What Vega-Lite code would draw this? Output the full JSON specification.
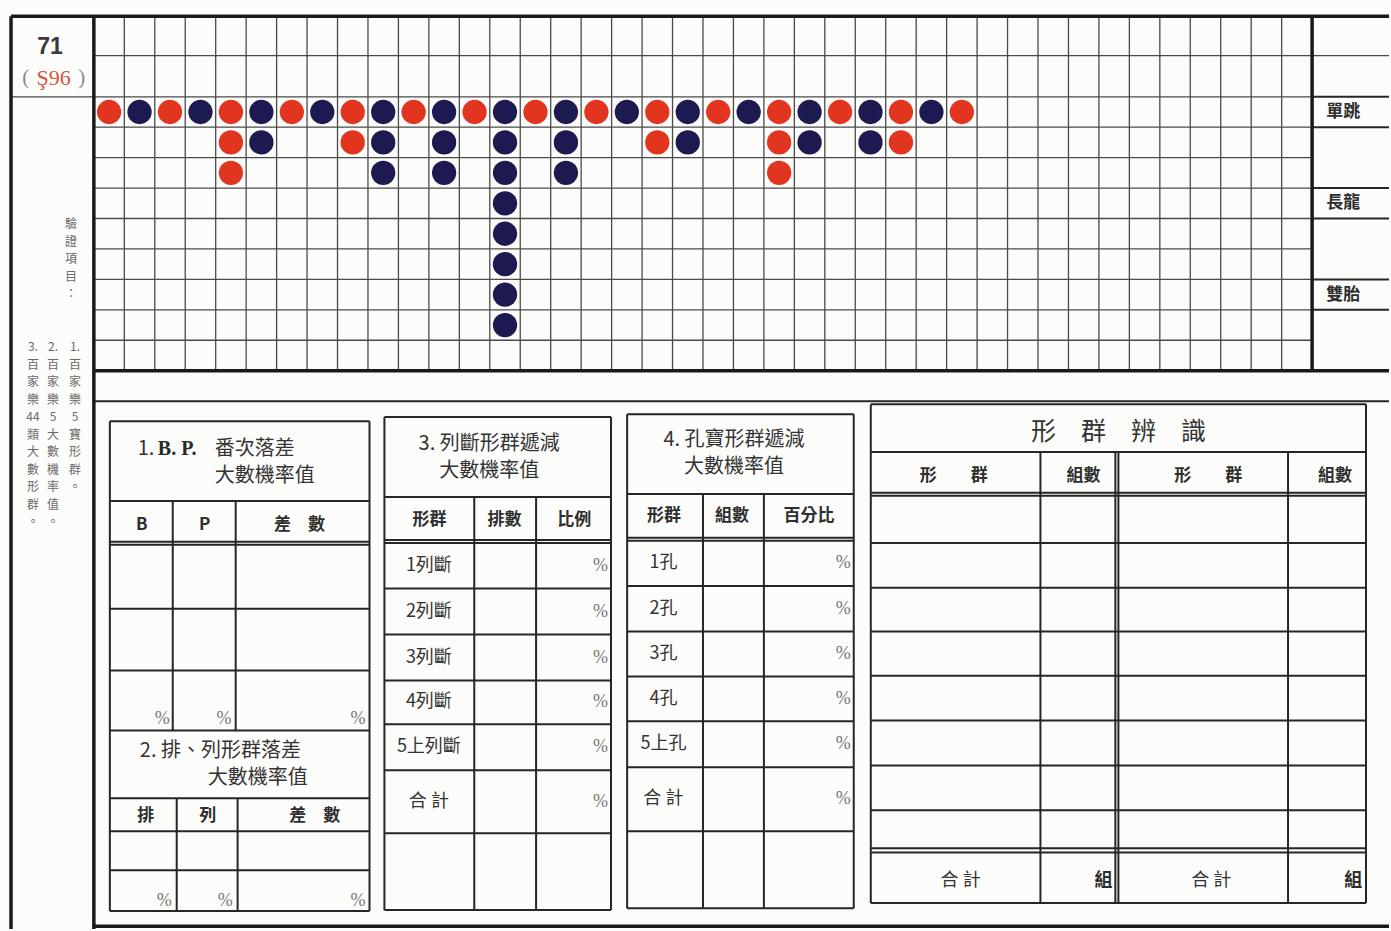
{
  "$schema": "https://vega.github.io/schema/vega-lite/v6.json",
  "width": 1391,
  "height": 931,
  "autosize": {"type": "fit", "contains": "padding"},
  "padding": 0,
  "background": "#fcfcfa",
  "config": {"view": {"stroke": null}},
  "datasets": {
    "road": [
      {"col": 1, "row": 1, "result": "莊"},
      {"col": 2, "row": 1, "result": "閒"},
      {"col": 3, "row": 1, "result": "莊"},
      {"col": 4, "row": 1, "result": "閒"},
      {"col": 5, "row": 1, "result": "莊"}, {"col": 5, "row": 2, "result": "莊"}, {"col": 5, "row": 3, "result": "莊"},
      {"col": 6, "row": 1, "result": "閒"}, {"col": 6, "row": 2, "result": "閒"},
      {"col": 7, "row": 1, "result": "莊"},
      {"col": 8, "row": 1, "result": "閒"},
      {"col": 9, "row": 1, "result": "莊"}, {"col": 9, "row": 2, "result": "莊"},
      {"col": 10, "row": 1, "result": "閒"}, {"col": 10, "row": 2, "result": "閒"}, {"col": 10, "row": 3, "result": "閒"},
      {"col": 11, "row": 1, "result": "莊"},
      {"col": 12, "row": 1, "result": "閒"}, {"col": 12, "row": 2, "result": "閒"}, {"col": 12, "row": 3, "result": "閒"},
      {"col": 13, "row": 1, "result": "莊"},
      {"col": 14, "row": 1, "result": "閒"}, {"col": 14, "row": 2, "result": "閒"}, {"col": 14, "row": 3, "result": "閒"}, {"col": 14, "row": 4, "result": "閒"},
      {"col": 14, "row": 5, "result": "閒"}, {"col": 14, "row": 6, "result": "閒"}, {"col": 14, "row": 7, "result": "閒"}, {"col": 14, "row": 8, "result": "閒"},
      {"col": 15, "row": 1, "result": "莊"},
      {"col": 16, "row": 1, "result": "閒"}, {"col": 16, "row": 2, "result": "閒"}, {"col": 16, "row": 3, "result": "閒"},
      {"col": 17, "row": 1, "result": "莊"},
      {"col": 18, "row": 1, "result": "閒"},
      {"col": 19, "row": 1, "result": "莊"}, {"col": 19, "row": 2, "result": "莊"},
      {"col": 20, "row": 1, "result": "閒"}, {"col": 20, "row": 2, "result": "閒"},
      {"col": 21, "row": 1, "result": "莊"},
      {"col": 22, "row": 1, "result": "閒"},
      {"col": 23, "row": 1, "result": "莊"}, {"col": 23, "row": 2, "result": "莊"}, {"col": 23, "row": 3, "result": "莊"},
      {"col": 24, "row": 1, "result": "閒"}, {"col": 24, "row": 2, "result": "閒"},
      {"col": 25, "row": 1, "result": "莊"},
      {"col": 26, "row": 1, "result": "閒"}, {"col": 26, "row": 2, "result": "閒"},
      {"col": 27, "row": 1, "result": "莊"}, {"col": 27, "row": 2, "result": "莊"},
      {"col": 28, "row": 1, "result": "閒"},
      {"col": 29, "row": 1, "result": "莊"}
    ],
    "nums": [
      {"col": 1}, {"col": 2}, {"col": 3}, {"col": 4}, {"col": 5}, {"col": 6}, {"col": 7}, {"col": 8}, {"col": 9}, {"col": 10},
      {"col": 11}, {"col": 12}, {"col": 13}, {"col": 14}, {"col": 15}, {"col": 16}, {"col": 17}, {"col": 18}, {"col": 19}, {"col": 20},
      {"col": 21}, {"col": 22}, {"col": 23}, {"col": 24}, {"col": 25}, {"col": 26}, {"col": 27}, {"col": 28}, {"col": 29}, {"col": 30},
      {"col": 31}, {"col": 32}, {"col": 33}, {"col": 34}, {"col": 35}, {"col": 36}, {"col": 37}, {"col": 38}, {"col": 39}, {"col": 40}
    ],
    "thinLines": [
      {"x": 1.5, "x2": 1.5, "y": -2.15, "y2": 9.5}, {"x": 2.5, "x2": 2.5, "y": -2.15, "y2": 9.5},
      {"x": 3.5, "x2": 3.5, "y": -2.15, "y2": 9.5}, {"x": 4.5, "x2": 4.5, "y": -2.15, "y2": 9.5},
      {"x": 5.5, "x2": 5.5, "y": -2.15, "y2": 9.5}, {"x": 6.5, "x2": 6.5, "y": -2.15, "y2": 9.5},
      {"x": 7.5, "x2": 7.5, "y": -2.15, "y2": 9.5}, {"x": 8.5, "x2": 8.5, "y": -2.15, "y2": 9.5},
      {"x": 9.5, "x2": 9.5, "y": -2.15, "y2": 9.5}, {"x": 10.5, "x2": 10.5, "y": -2.15, "y2": 9.5},
      {"x": 11.5, "x2": 11.5, "y": -2.15, "y2": 9.5}, {"x": 12.5, "x2": 12.5, "y": -2.15, "y2": 9.5},
      {"x": 13.5, "x2": 13.5, "y": -2.15, "y2": 9.5}, {"x": 14.5, "x2": 14.5, "y": -2.15, "y2": 9.5},
      {"x": 15.5, "x2": 15.5, "y": -2.15, "y2": 9.5}, {"x": 16.5, "x2": 16.5, "y": -2.15, "y2": 9.5},
      {"x": 17.5, "x2": 17.5, "y": -2.15, "y2": 9.5}, {"x": 18.5, "x2": 18.5, "y": -2.15, "y2": 9.5},
      {"x": 19.5, "x2": 19.5, "y": -2.15, "y2": 9.5}, {"x": 20.5, "x2": 20.5, "y": -2.15, "y2": 9.5},
      {"x": 21.5, "x2": 21.5, "y": -2.15, "y2": 9.5}, {"x": 22.5, "x2": 22.5, "y": -2.15, "y2": 9.5},
      {"x": 23.5, "x2": 23.5, "y": -2.15, "y2": 9.5}, {"x": 24.5, "x2": 24.5, "y": -2.15, "y2": 9.5},
      {"x": 25.5, "x2": 25.5, "y": -2.15, "y2": 9.5}, {"x": 26.5, "x2": 26.5, "y": -2.15, "y2": 9.5},
      {"x": 27.5, "x2": 27.5, "y": -2.15, "y2": 9.5}, {"x": 28.5, "x2": 28.5, "y": -2.15, "y2": 9.5},
      {"x": 29.5, "x2": 29.5, "y": -2.15, "y2": 9.5}, {"x": 30.5, "x2": 30.5, "y": -2.15, "y2": 9.5},
      {"x": 31.5, "x2": 31.5, "y": -2.15, "y2": 9.5}, {"x": 32.5, "x2": 32.5, "y": -2.15, "y2": 9.5},
      {"x": 33.5, "x2": 33.5, "y": -2.15, "y2": 9.5}, {"x": 34.5, "x2": 34.5, "y": -2.15, "y2": 9.5},
      {"x": 35.5, "x2": 35.5, "y": -2.15, "y2": 9.5}, {"x": 36.5, "x2": 36.5, "y": -2.15, "y2": 9.5},
      {"x": 37.5, "x2": 37.5, "y": -2.15, "y2": 9.5}, {"x": 38.5, "x2": 38.5, "y": -2.15, "y2": 9.5},
      {"x": 39.5, "x2": 39.5, "y": -2.15, "y2": 9.5},
      {"x": 0.5, "x2": 43.025, "y": -0.85, "y2": -0.85},
      {"x": -2.22, "x2": 40.5, "y": 0.5, "y2": 0.5},
      {"x": 0.5, "x2": 40.5, "y": 1.5, "y2": 1.5}, {"x": 0.5, "x2": 40.5, "y": 2.5, "y2": 2.5},
      {"x": 0.5, "x2": 40.5, "y": 3.5, "y2": 3.5}, {"x": 0.5, "x2": 40.5, "y": 4.5, "y2": 4.5},
      {"x": 0.5, "x2": 40.5, "y": 5.5, "y2": 5.5}, {"x": 0.5, "x2": 40.5, "y": 6.5, "y2": 6.5},
      {"x": 0.5, "x2": 40.5, "y": 7.5, "y2": 7.5}, {"x": 0.5, "x2": 40.5, "y": 8.5, "y2": 8.5}
    ],
    "thickLines": [
      {"x": -2.22, "x2": -2.22, "y": -2.15, "y2": 27.844},
      {"x": 0.5, "x2": 0.5, "y": -2.15, "y2": 27.844},
      {"x": 40.5, "x2": 40.5, "y": -2.15, "y2": 9.5},
      {"x": -2.22, "x2": 43.025, "y": -2.15, "y2": -2.15},
      {"x": 0.5, "x2": 43.025, "y": 9.5, "y2": 9.5},
      {"x": 0.5, "x2": 43.025, "y": 27.75, "y2": 27.75}
    ],
    "formLines": [
      {"x": 40.5, "x2": 43.025, "y": 0.5, "y2": 0.5},
      {"x": 40.5, "x2": 43.025, "y": 1.5, "y2": 1.5},
      {"x": 40.5, "x2": 43.025, "y": 3.5, "y2": 3.5},
      {"x": 40.5, "x2": 43.025, "y": 4.5, "y2": 4.5},
      {"x": 40.5, "x2": 43.025, "y": 6.5, "y2": 6.5},
      {"x": 40.5, "x2": 43.025, "y": 7.5, "y2": 7.5},
      {"x": 0.5, "x2": 43.025, "y": 10.5, "y2": 10.5},

      {"x": 1.025, "x2": 1.025, "y": 11.16, "y2": 27.25},
      {"x": 9.55, "x2": 9.55, "y": 11.16, "y2": 27.25},
      {"x": 1.025, "x2": 9.55, "y": 11.16, "y2": 11.16},
      {"x": 1.025, "x2": 9.55, "y": 27.25, "y2": 27.25},
      {"x": 1.025, "x2": 9.55, "y": 13.78, "y2": 13.78},
      {"x": 1.025, "x2": 9.55, "y": 15.12, "y2": 15.12},
      {"x": 1.025, "x2": 9.55, "y": 15.22, "y2": 15.22},
      {"x": 1.025, "x2": 9.55, "y": 17.32, "y2": 17.32},
      {"x": 1.025, "x2": 9.55, "y": 19.35, "y2": 19.35},
      {"x": 1.025, "x2": 9.55, "y": 21.32, "y2": 21.32},
      {"x": 1.025, "x2": 9.55, "y": 23.55, "y2": 23.55},
      {"x": 1.025, "x2": 9.55, "y": 24.63, "y2": 24.63},
      {"x": 1.025, "x2": 9.55, "y": 25.91, "y2": 25.91},
      {"x": 3.09, "x2": 3.09, "y": 13.78, "y2": 21.32},
      {"x": 5.156, "x2": 5.156, "y": 13.78, "y2": 21.32},
      {"x": 3.22, "x2": 3.22, "y": 23.55, "y2": 27.25},
      {"x": 5.22, "x2": 5.22, "y": 23.55, "y2": 27.25},

      {"x": 10.04, "x2": 10.04, "y": 11.02, "y2": 27.22},
      {"x": 17.48, "x2": 17.48, "y": 11.02, "y2": 27.22},
      {"x": 10.04, "x2": 17.48, "y": 11.02, "y2": 11.02},
      {"x": 10.04, "x2": 17.48, "y": 27.22, "y2": 27.22},
      {"x": 10.04, "x2": 17.48, "y": 13.65, "y2": 13.65},
      {"x": 10.04, "x2": 17.48, "y": 15.06, "y2": 15.06},
      {"x": 10.04, "x2": 17.48, "y": 15.16, "y2": 15.16},
      {"x": 10.04, "x2": 17.48, "y": 16.66, "y2": 16.66},
      {"x": 10.04, "x2": 17.48, "y": 18.17, "y2": 18.17},
      {"x": 10.04, "x2": 17.48, "y": 19.68, "y2": 19.68},
      {"x": 10.04, "x2": 17.48, "y": 21.12, "y2": 21.12},
      {"x": 10.04, "x2": 17.48, "y": 22.63, "y2": 22.63},
      {"x": 10.04, "x2": 17.48, "y": 24.7, "y2": 24.7},
      {"x": 12.99, "x2": 12.99, "y": 13.65, "y2": 27.22},
      {"x": 15.02, "x2": 15.02, "y": 13.65, "y2": 27.22},

      {"x": 18.01, "x2": 18.01, "y": 10.93, "y2": 27.16},
      {"x": 25.45, "x2": 25.45, "y": 10.93, "y2": 27.16},
      {"x": 18.01, "x2": 25.45, "y": 10.93, "y2": 10.93},
      {"x": 18.01, "x2": 25.45, "y": 27.16, "y2": 27.16},
      {"x": 18.01, "x2": 25.45, "y": 13.55, "y2": 13.55},
      {"x": 18.01, "x2": 25.45, "y": 14.99, "y2": 14.99},
      {"x": 18.01, "x2": 25.45, "y": 15.09, "y2": 15.09},
      {"x": 18.01, "x2": 25.45, "y": 16.57, "y2": 16.57},
      {"x": 18.01, "x2": 25.45, "y": 18.07, "y2": 18.07},
      {"x": 18.01, "x2": 25.45, "y": 19.55, "y2": 19.55},
      {"x": 18.01, "x2": 25.45, "y": 21.02, "y2": 21.02},
      {"x": 18.01, "x2": 25.45, "y": 22.53, "y2": 22.53},
      {"x": 18.01, "x2": 25.45, "y": 24.63, "y2": 24.63},
      {"x": 20.5, "x2": 20.5, "y": 13.55, "y2": 27.16},
      {"x": 22.5, "x2": 22.5, "y": 13.55, "y2": 27.16},

      {"x": 26.01, "x2": 26.01, "y": 10.6, "y2": 26.99},
      {"x": 42.27, "x2": 42.27, "y": 10.6, "y2": 26.99},
      {"x": 26.01, "x2": 42.27, "y": 10.6, "y2": 10.6},
      {"x": 26.01, "x2": 42.27, "y": 26.99, "y2": 26.99},
      {"x": 26.01, "x2": 42.27, "y": 12.17, "y2": 12.17},
      {"x": 26.01, "x2": 42.27, "y": 13.51, "y2": 13.51},
      {"x": 26.01, "x2": 42.27, "y": 13.61, "y2": 13.61},
      {"x": 26.01, "x2": 42.27, "y": 15.16, "y2": 15.16},
      {"x": 26.01, "x2": 42.27, "y": 16.63, "y2": 16.63},
      {"x": 26.01, "x2": 42.27, "y": 18.07, "y2": 18.07},
      {"x": 26.01, "x2": 42.27, "y": 19.52, "y2": 19.52},
      {"x": 26.01, "x2": 42.27, "y": 20.99, "y2": 20.99},
      {"x": 26.01, "x2": 42.27, "y": 22.47, "y2": 22.47},
      {"x": 26.01, "x2": 42.27, "y": 23.94, "y2": 23.94},
      {"x": 26.01, "x2": 42.27, "y": 25.19, "y2": 25.19},
      {"x": 26.01, "x2": 42.27, "y": 25.33, "y2": 25.33},
      {"x": 31.58, "x2": 31.58, "y": 12.17, "y2": 26.99},
      {"x": 34.04, "x2": 34.04, "y": 12.17, "y2": 26.99},
      {"x": 34.14, "x2": 34.14, "y": 12.17, "y2": 26.99},
      {"x": 39.71, "x2": 39.71, "y": 12.17, "y2": 26.99}
    ],
    "leftTitles": [
      {"x": 1.94, "y": 12.07, "t": "1."},
      {"x": 4.47, "y": 12.07, "t": "番次落差"},
      {"x": 4.47, "y": 12.96, "t": "大數機率值"},
      {"x": 2.01, "y": 21.98, "t": "2. 排、列形群落差"},
      {"x": 4.24, "y": 22.89, "t": "大數機率值"}
    ],
    "boldTitle": [
      {"x": 2.6, "y": 12.07, "t": "B. P."}
    ],
    "centerTitles": [
      {"x": 13.48, "y": 11.91, "t": "3. 列斷形群遞減"},
      {"x": 13.48, "y": 12.8, "t": "大數機率值"},
      {"x": 21.52, "y": 11.78, "t": "4. 孔寶形群遞減"},
      {"x": 21.52, "y": 12.66, "t": "大數機率值"}
    ],
    "bigTitle": [
      {"x": 34.14, "y": 11.52, "t": "形　群　辨　識"}
    ],
    "headers": [
      {"x": 2.07, "y": 14.57, "t": "B"},
      {"x": 4.14, "y": 14.57, "t": "P"},
      {"x": 7.25, "y": 14.57, "t": "差　數"},
      {"x": 2.2, "y": 24.14, "t": "排"},
      {"x": 4.24, "y": 24.14, "t": "列"},
      {"x": 7.75, "y": 24.14, "t": "差　數"},
      {"x": 11.52, "y": 14.4, "t": "形群"},
      {"x": 13.98, "y": 14.4, "t": "排數"},
      {"x": 16.27, "y": 14.4, "t": "比例"},
      {"x": 19.22, "y": 14.27, "t": "形群"},
      {"x": 21.45, "y": 14.27, "t": "組數"},
      {"x": 23.98, "y": 14.27, "t": "百分比"},
      {"x": 28.73, "y": 12.96, "t": "形　　群"},
      {"x": 32.99, "y": 12.96, "t": "組數"},
      {"x": 37.09, "y": 12.96, "t": "形　　群"},
      {"x": 41.25, "y": 12.96, "t": "組數"},
      {"x": 41.52, "y": 1, "t": "單跳"},
      {"x": 41.52, "y": 4, "t": "長龍"},
      {"x": 41.52, "y": 7, "t": "雙胎"}
    ],
    "rowLabels": [
      {"x": 11.5, "y": 15.91, "t": "1列斷"},
      {"x": 11.5, "y": 17.42, "t": "2列斷"},
      {"x": 11.5, "y": 18.93, "t": "3列斷"},
      {"x": 11.5, "y": 20.4, "t": "4列斷"},
      {"x": 11.5, "y": 21.88, "t": "5上列斷"},
      {"x": 11.5, "y": 23.66, "t": "合 計"},
      {"x": 19.2, "y": 15.83, "t": "1孔"},
      {"x": 19.2, "y": 17.32, "t": "2孔"},
      {"x": 19.2, "y": 18.81, "t": "3孔"},
      {"x": 19.2, "y": 20.29, "t": "4孔"},
      {"x": 19.2, "y": 21.78, "t": "5上孔"},
      {"x": 19.2, "y": 23.58, "t": "合 計"},
      {"x": 28.96, "y": 26.27, "t": "合 計"},
      {"x": 37.19, "y": 26.27, "t": "合 計"}
    ],
    "percents": [
      {"x": 2.99, "y": 20.93, "t": "%"}, {"x": 5.02, "y": 20.93, "t": "%"}, {"x": 9.42, "y": 20.93, "t": "%"},
      {"x": 3.06, "y": 26.93, "t": "%"}, {"x": 5.06, "y": 26.93, "t": "%"}, {"x": 9.42, "y": 26.93, "t": "%"},
      {"x": 17.38, "y": 15.91, "t": "%"}, {"x": 17.38, "y": 17.42, "t": "%"}, {"x": 17.38, "y": 18.93, "t": "%"},
      {"x": 17.38, "y": 20.4, "t": "%"}, {"x": 17.38, "y": 21.88, "t": "%"}, {"x": 17.38, "y": 23.66, "t": "%"},
      {"x": 25.35, "y": 15.83, "t": "%"}, {"x": 25.35, "y": 17.32, "t": "%"}, {"x": 25.35, "y": 18.81, "t": "%"},
      {"x": 25.35, "y": 20.29, "t": "%"}, {"x": 25.35, "y": 21.78, "t": "%"}, {"x": 25.35, "y": 23.58, "t": "%"}
    ],
    "groupUnits": [
      {"x": 33.95, "y": 26.27, "t": "組"},
      {"x": 42.15, "y": 26.27, "t": "組"}
    ],
    "verticalNotes": [
      {"x": -0.254, "y": 4.53, "t": "驗\n證\n項\n目\n："},
      {"x": -0.12, "y": 8.57, "t": "1.\n百\n家\n樂\n5\n寶\n形\n群\n。"},
      {"x": -0.84, "y": 8.57, "t": "2.\n百\n家\n樂\n5\n大\n數\n機\n率\n值\n。"},
      {"x": -1.5, "y": 8.57, "t": "3.\n百\n家\n樂\n44\n類\n大\n數\n形\n群\n。"}
    ],
    "sheetNo": [{"x": -0.94, "y": -1.14, "t": "71"}],
    "parens": [{"x": -1.74, "y": -0.12, "t": "("}, {"x": 0.1, "y": -0.12, "t": ")"}],
    "subNo": [{"x": -0.82, "y": -0.12, "t": "Ş96"}]
  },
  "encoding": {
    "x": {"field": "x", "type": "quantitative", "axis": null, "scale": {"type": "linear", "domain": [-2.582, 43.025], "nice": false, "zero": false}},
    "y": {"field": "y", "type": "quantitative", "axis": null, "scale": {"type": "linear", "domain": [-2.68, 27.844], "nice": false, "zero": false, "reverse": true}}
  },
  "layer": [
    {
      "data": {"name": "thinLines"},
      "mark": {"type": "rule", "stroke": "#4a4a4a", "strokeWidth": 1.3},
      "encoding": {"x2": {"field": "x2"}, "y2": {"field": "y2"}}
    },
    {
      "data": {"name": "formLines"},
      "mark": {"type": "rule", "stroke": "#262626", "strokeWidth": 2},
      "encoding": {"x2": {"field": "x2"}, "y2": {"field": "y2"}}
    },
    {
      "data": {"name": "thickLines"},
      "mark": {"type": "rule", "stroke": "#1a1a1a", "strokeWidth": 3.5},
      "encoding": {"x2": {"field": "x2"}, "y2": {"field": "y2"}}
    },
    {
      "data": {"name": "road"},
      "mark": {"type": "point", "shape": "circle", "filled": true, "size": 590, "opacity": 1},
      "encoding": {
        "x": {"field": "col", "type": "quantitative", "axis": null, "scale": {"type": "linear", "domain": [-2.582, 43.025], "nice": false, "zero": false}},
        "y": {"field": "row", "type": "quantitative", "axis": null, "scale": {"type": "linear", "domain": [-2.68, 27.844], "nice": false, "zero": false, "reverse": true}},
        "color": {"field": "result", "type": "nominal", "legend": null, "scale": {"domain": ["莊", "閒"], "range": ["#e2351f", "#1c1a50"]}}
      }
    },
    {
      "data": {"name": "nums"},
      "mark": {"type": "text", "font": "Liberation Serif", "fontSize": 18, "color": "#3a3a3a", "align": "center", "baseline": "middle"},
      "encoding": {
        "x": {"field": "col", "type": "quantitative", "axis": null, "scale": {"type": "linear", "domain": [-2.582, 43.025], "nice": false, "zero": false}},
        "y": {"datum": -0.17, "type": "quantitative", "axis": null, "scale": {"type": "linear", "domain": [-2.68, 27.844], "nice": false, "zero": false, "reverse": true}},
        "text": {"field": "col", "type": "quantitative"}
      }
    },
    {
      "data": {"name": "leftTitles"},
      "mark": {"type": "text", "font": "Noto Sans CJK TC", "fontSize": 20, "color": "#333333", "align": "left", "baseline": "middle"},
      "encoding": {"text": {"field": "t", "type": "nominal"}}
    },
    {
      "data": {"name": "boldTitle"},
      "mark": {"type": "text", "font": "Liberation Serif", "fontSize": 20, "fontWeight": "bold", "color": "#2a2a2a", "align": "left", "baseline": "middle"},
      "encoding": {"text": {"field": "t", "type": "nominal"}}
    },
    {
      "data": {"name": "centerTitles"},
      "mark": {"type": "text", "font": "Noto Sans CJK TC", "fontSize": 20, "color": "#333333", "align": "center", "baseline": "middle"},
      "encoding": {"text": {"field": "t", "type": "nominal"}}
    },
    {
      "data": {"name": "bigTitle"},
      "mark": {"type": "text", "font": "Noto Sans CJK TC", "fontSize": 25, "color": "#333333", "align": "center", "baseline": "middle"},
      "encoding": {"text": {"field": "t", "type": "nominal"}}
    },
    {
      "data": {"name": "headers"},
      "mark": {"type": "text", "font": "Noto Sans CJK TC", "fontSize": 17, "fontWeight": "bold", "color": "#2e2e2e", "align": "center", "baseline": "middle"},
      "encoding": {"text": {"field": "t", "type": "nominal"}}
    },
    {
      "data": {"name": "rowLabels"},
      "mark": {"type": "text", "font": "Noto Sans CJK TC", "fontSize": 18, "color": "#333333", "align": "center", "baseline": "middle"},
      "encoding": {"text": {"field": "t", "type": "nominal"}}
    },
    {
      "data": {"name": "percents"},
      "mark": {"type": "text", "font": "Liberation Serif", "fontSize": 18, "color": "#777777", "align": "right", "baseline": "middle"},
      "encoding": {"text": {"field": "t", "type": "nominal"}}
    },
    {
      "data": {"name": "groupUnits"},
      "mark": {"type": "text", "font": "Noto Sans CJK TC", "fontSize": 18, "fontWeight": "bold", "color": "#2e2e2e", "align": "right", "baseline": "middle"},
      "encoding": {"text": {"field": "t", "type": "nominal"}}
    },
    {
      "data": {"name": "verticalNotes"},
      "mark": {"type": "text", "font": "Noto Sans CJK TC", "fontSize": 12, "color": "#6a6a6a", "align": "center", "baseline": "top", "lineBreak": "\n", "lineHeight": 17.5},
      "encoding": {"text": {"field": "t", "type": "nominal"}}
    },
    {
      "data": {"name": "sheetNo"},
      "mark": {"type": "text", "font": "Liberation Sans", "fontSize": 23, "fontWeight": "bold", "color": "#3a3a3a", "align": "center", "baseline": "middle"},
      "encoding": {"text": {"field": "t", "type": "nominal"}}
    },
    {
      "data": {"name": "parens"},
      "mark": {"type": "text", "font": "Liberation Serif", "fontSize": 21, "color": "#8a8a8a", "align": "center", "baseline": "middle"},
      "encoding": {"text": {"field": "t", "type": "nominal"}}
    },
    {
      "data": {"name": "subNo"},
      "mark": {"type": "text", "font": "Liberation Serif", "fontSize": 22, "color": "#d4583c", "align": "center", "baseline": "middle"},
      "encoding": {"text": {"field": "t", "type": "nominal"}}
    }
  ]
}
